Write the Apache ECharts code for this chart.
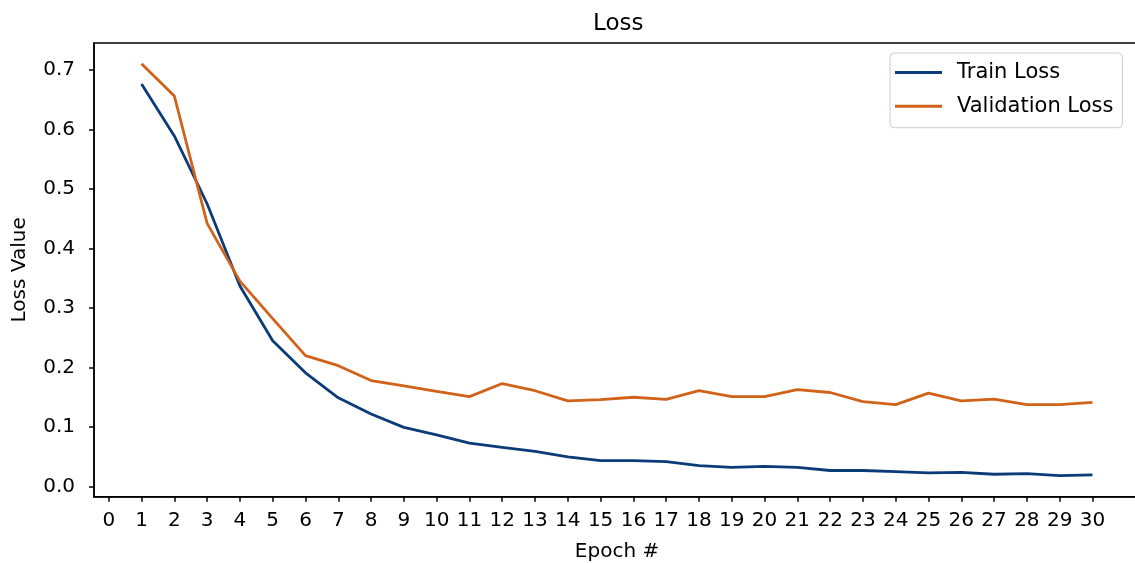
<!DOCTYPE html>
<html>
<head>
<meta charset="utf-8">
<script src="https://cdn.jsdelivr.net/npm/echarts@6/dist/echarts.min.js"></script>
<style>html,body{margin:0;padding:0;background:#fff;}#c{width:1135px;height:563px;}</style>
</head>
<body>
<div id="c"></div>
<script>
const epochs = [1,2,3,4,5,6,7,8,9,10,11,12,13,14,15,16,17,18,19,20,21,22,23,24,25,26,27,28,29,30];
const trainLoss = [0.676,0.589,0.475,0.337,0.245,0.191,0.149,0.122,0.0995,0.087,0.073,0.066,0.059,0.050,0.0436,0.0436,0.042,0.0352,0.0324,0.034,0.0324,0.027,0.027,0.025,0.023,0.024,0.0207,0.0218,0.0185,0.0196];
const valLoss = [0.710,0.656,0.442,0.345,0.282,0.220,0.203,0.178,0.169,0.160,0.151,0.173,0.161,0.144,0.146,0.150,0.1466,0.161,0.151,0.151,0.163,0.158,0.1426,0.1376,0.157,0.144,0.147,0.1376,0.1376,0.1415];
const xTicks = [0,1,2,3,4,5,6,7,8,9,10,11,12,13,14,15,16,17,18,19,20,21,22,23,24,25,26,27,28,29,30];
const yTicks = [0,0.1,0.2,0.3,0.4,0.5,0.6,0.7];

const font = 'DejaVu Sans';
const chart = echarts.init(document.getElementById('c'), null, {renderer:'canvas'});
chart.setOption({
  animation: false,
  backgroundColor: '#fff',
  title: {
    text: 'Loss', left: 588, top: 8,
    textStyle: {fontFamily: font, fontSize: 23, fontWeight: 'normal', color: '#000'}
  },
  legend: {
    orient: 'vertical', left: 890, top: 53,
    padding: [9, 9, 11, 5],
    borderColor: '#cccccc', borderWidth: 1, borderRadius: 4,
    icon: 'rect', itemWidth: 47, itemHeight: 3, itemGap: 12.7,
    textStyle: {fontFamily: font, fontSize: 21, color: '#000', lineHeight: 20, padding: [0,0,0,10]},
    data: ['Train Loss', 'Validation Loss']
  },
  grid: {
    left: 94, top: 43, width: 1046, height: 453.7,
    outerBoundsMode: 'none', containLabel: false,
    show: true, borderColor: '#000', borderWidth: 1.5, backgroundColor: 'transparent'
  },
  xAxis: {
    type: 'value', min: -0.45, max: 31.45,
    name: 'Epoch #', nameLocation: 'middle', nameGap: 45,
    nameTextStyle: {fontFamily: font, fontSize: 20, color: '#000'},
    axisLine: {show: true, onZero: false, lineStyle: {color: '#000', width: 1.5}},
    axisTick: {show: true, length: 5, lineStyle: {color: '#000', width: 1.5}, customValues: xTicks},
    axisLabel: {fontFamily: font, fontSize: 20, color: '#000', margin: 14, customValues: xTicks},
    splitLine: {show: false}
  },
  yAxis: {
    type: 'value', min: -0.017, max: 0.745,
    name: 'Loss Value', nameLocation: 'middle', nameGap: 64, nameRotate: 90,
    nameTextStyle: {fontFamily: font, fontSize: 20, color: '#000'},
    axisLine: {show: true, onZero: false, lineStyle: {color: '#000', width: 1.5}},
    axisTick: {show: true, length: 5, lineStyle: {color: '#000', width: 1.5}, customValues: yTicks},
    axisLabel: {fontFamily: font, fontSize: 20, color: '#000', margin: 19, customValues: yTicks,
      formatter: v => v.toFixed(1)},
    splitLine: {show: false}
  },
  series: [
    {
      name: 'Train Loss', type: 'line', symbol: 'none',
      lineStyle: {color: '#0b3c78', width: 2.8}, itemStyle: {color: '#0b3c78'},
      data: epochs.map((e, i) => [e, trainLoss[i]])
    },
    {
      name: 'Validation Loss', type: 'line', symbol: 'none',
      lineStyle: {color: '#d0621a', width: 2.8}, itemStyle: {color: '#d0621a'},
      data: epochs.map((e, i) => [e, valLoss[i]])
    }
  ]
});
</script>
</body>
</html>
